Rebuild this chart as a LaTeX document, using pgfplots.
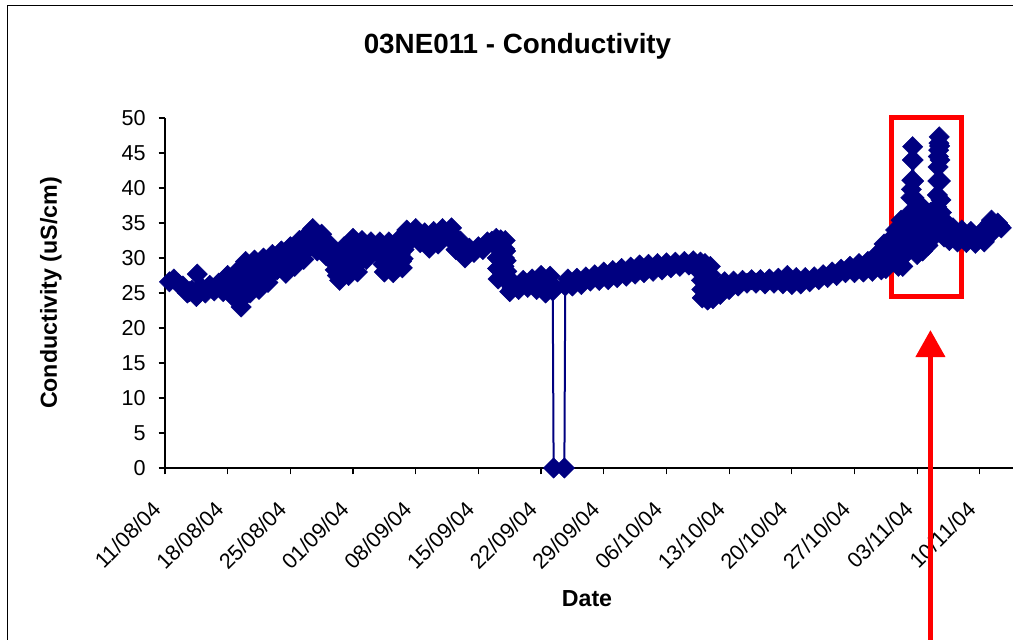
\documentclass[border=0pt]{standalone}
\usepackage{fontspec}
\setmainfont{Liberation Sans}
\usepackage{pgfplots}
\pgfplotsset{compat=1.18}
\usetikzlibrary{arrows.meta}
\definecolor{navy}{HTML}{000080}

\begin{document}
\begin{tikzpicture}
% chart frame (only top and left edges fall inside the picture)
\draw[black, line width=0.75pt] (3.75pt,-20pt) -- (3.75pt,317.25pt) -- (530pt,317.25pt);

\begin{axis}[
at={(82.5pt,86pt)}, anchor=south west,
scale only axis, width=424pt, height=175pt,
xmin=0, xmax=94.7,
ymin=0, ymax=50,
enlargelimits=false,
clip=false,
axis x line=bottom, axis y line=left,
axis line style={-, black, line width=0.6pt},
xtick={0,7,...,91},
xticklabels={11/08/04,18/08/04,25/08/04,01/09/04,08/09/04,15/09/04,22/09/04,29/09/04,06/10/04,13/10/04,20/10/04,27/10/04,03/11/04,10/11/04},
ytick={0,5,...,50},
tick align=outside,
major tick length=3.25pt,
tick style={black, line width=0.6pt},
/pgf/number format/assume math mode=true,
tick label style={font=\fontsize{10.8}{12}\selectfont},
xticklabel style={xshift=-4pt, rotate=45, anchor=east, inner sep=0pt},
yticklabel style={anchor=east, inner sep=0pt},
xticklabel shift=15.5pt,
yticklabel shift=6.25pt,
]

% conductivity readings, days since 11/08/04
\addplot[color=navy, line width=1pt,
  mark=square*, mark size=3.6pt,
  mark options={rotate=45, solid, fill=navy, draw=navy, line width=0.2pt}]
coordinates {
(0.5,26.6) (1.0,27.0) (1.5,26.3) (2.0,26.0) (2.25,25.5) (2.5,25.0) (2.75,25.2) (3.0,25.4)
(3.25,25.0) (3.5,24.5) (3.6,27.7) (3.75,25.1) (4.0,25.9) (4.25,25.4) (4.5,25.0) (4.75,25.6)
(5.0,26.1) (5.25,25.7) (5.5,25.3) (5.75,25.8) (6.0,26.4) (6.25,25.8) (6.5,25.2) (6.75,26.3)
(7.0,27.5) (7.15,26.6) (7.3,25.6) (7.5,24.6) (7.65,25.6) (7.8,26.8) (8.0,28.0) (8.1,27.0)
(8.2,26.0) (8.3,25.0) (8.4,24.0) (8.5,23.0) (8.6,24.2) (8.7,25.5) (8.8,26.8) (8.9,28.1)
(9.0,29.5) (9.1,28.4) (9.2,27.3) (9.35,26.1) (9.5,25.0) (9.6,26.2) (9.7,27.4) (9.85,28.6)
(10.0,29.7) (10.1,28.6) (10.2,27.5) (10.35,26.5) (10.5,25.5) (10.6,26.6) (10.7,27.7) (10.85,28.9)
(11.0,30.0) (11.1,29.0) (11.25,28.0) (11.4,27.2) (11.5,26.5) (11.6,27.5) (11.75,28.5) (11.9,29.6)
(12.0,30.5) (12.15,29.6) (12.3,28.9) (12.5,28.3) (12.65,29.2) (12.8,30.1) (13.0,31.0) (13.15,30.0)
(13.3,28.9) (13.5,27.8) (13.65,28.9) (13.8,30.3) (14.0,31.6) (14.15,30.6) (14.3,29.7) (14.5,28.8)
(14.65,30.0) (14.8,31.3) (15.0,32.5) (15.15,31.5) (15.3,30.6) (15.5,29.8) (15.65,30.9) (15.8,32.1)
(16.0,33.2) (16.25,33.8) (16.5,34.2) (16.6,33.1) (16.75,32.0) (17.0,31.0) (17.15,31.8) (17.3,32.6)
(17.5,33.4) (17.65,32.4) (17.8,31.4) (18.0,30.3) (18.25,31.0) (18.5,31.8) (18.6,30.7) (18.75,29.5)
(19.0,28.3) (19.25,27.5) (19.5,26.8) (19.6,28.0) (19.7,29.2) (19.85,30.4) (20.0,31.6) (20.1,30.5)
(20.2,29.5) (20.35,28.5) (20.5,27.5) (20.6,28.7) (20.7,30.0) (20.85,31.4) (21.0,32.8) (21.1,31.7)
(21.2,30.5) (21.35,29.2) (21.5,28.0) (21.6,29.2) (21.75,30.4) (21.9,31.5) (22.0,32.5) (22.15,31.6)
(22.3,30.7) (22.5,29.8) (22.75,31.0) (23.0,32.3) (23.25,31.6) (23.5,31.0) (23.75,31.7) (24.0,32.3)
(24.1,31.2) (24.2,30.2) (24.35,29.1) (24.5,28.0) (24.6,29.1) (24.7,30.1) (24.85,31.2) (25.0,32.3)
(25.1,31.2) (25.2,30.1) (25.35,29.0) (25.5,27.9) (25.6,29.0) (25.7,30.1) (25.85,31.3) (26.0,32.5)
(26.1,31.5) (26.25,30.5) (26.4,29.5) (26.5,28.6) (26.6,29.9) (26.7,31.2) (26.85,32.6) (27.0,34.0)
(27.25,33.3) (27.5,32.6) (27.75,33.4) (28.0,34.2) (28.25,33.2) (28.5,32.2) (28.75,32.9) (29.0,33.6)
(29.25,32.5) (29.5,31.4) (29.75,32.6) (30.0,33.8) (30.25,32.9) (30.5,32.0) (30.75,33.1) (31.0,34.2)
(31.25,33.6) (31.5,33.1) (31.75,33.7) (32.0,34.3) (32.15,33.3) (32.3,32.2) (32.5,31.2) (32.75,31.8)
(33.0,32.4) (33.15,31.6) (33.3,30.8) (33.5,30.0) (33.75,30.7) (34.0,31.4) (34.5,30.8) (35.0,31.6)
(35.5,31.2) (36.0,32.3) (36.5,32.4) (37.0,32.8) (37.05,31.5) (37.1,30.0) (37.15,28.5) (37.2,27.0)
(37.27,28.4) (37.33,29.8) (37.4,31.2) (37.5,32.6) (37.57,31.3) (37.64,30.0) (37.71,28.8) (37.8,27.5)
(37.85,28.8) (37.9,30.0) (37.95,31.3) (38.0,32.5) (38.05,31.0) (38.1,29.6) (38.17,28.1) (38.3,26.5)
(38.5,25.2) (38.75,25.7) (39.0,26.3) (39.25,25.9) (39.5,25.5) (39.75,26.1) (40.0,26.8) (40.25,26.3)
(40.5,25.8) (40.75,26.4) (41.0,27.0) (41.25,26.2) (41.5,25.5) (41.75,26.5) (42.0,27.5) (42.25,26.3)
(42.5,25.0) (42.75,26.2) (43.0,27.4) (43.15,26.3) (43.3,25.3) (43.4,0) (44.6,0) (44.7,26.0)
(45.0,27.0) (45.5,26.0) (46.0,27.1) (46.5,26.2) (47.0,27.3) (47.5,26.7) (48.0,27.6) (48.5,26.8)
(49.0,28.0) (49.5,26.9) (50.0,28.2) (50.5,27.2) (51.0,28.5) (51.5,27.4) (52.0,28.7) (52.5,27.7)
(53.0,29.0) (53.5,27.9) (54.0,29.1) (54.5,28.1) (55.0,29.2) (55.5,28.3) (56.0,29.3) (56.5,28.6)
(57.0,29.4) (57.5,28.8) (58.0,29.5) (58.5,29.0) (59.0,29.6) (59.5,28.3) (59.8,29.4) (59.85,28.1)
(59.9,26.8) (59.95,25.5) (60.0,24.3) (60.07,25.5) (60.14,26.7) (60.22,27.9) (60.3,29.2) (60.37,27.9)
(60.45,26.6) (60.52,25.3) (60.6,24.0) (60.67,25.2) (60.75,26.4) (60.82,27.6) (60.9,28.8) (60.97,27.6)
(61.05,26.4) (61.12,25.3) (61.2,24.2) (61.35,25.0) (61.5,25.9) (61.75,25.3) (62.0,24.8) (62.25,25.7)
(62.5,26.6) (62.75,26.0) (63.0,25.5) (63.5,26.7) (64.0,26.0) (64.5,26.8) (65.0,26.4) (65.5,26.9)
(66.0,26.4) (66.5,26.9) (67.0,26.3) (67.5,27.0) (68.0,26.4) (68.5,27.1) (69.0,26.3) (69.5,27.5)
(70.0,26.2) (70.5,27.2) (71.0,26.3) (71.5,27.2) (72.0,26.6) (72.5,27.3) (73.0,26.9) (73.5,27.6)
(74.0,27.2) (74.5,28.0) (75.0,27.5) (75.5,28.4) (76.0,27.9) (76.5,28.8) (77.0,27.9) (77.5,29.2)
(78.0,28.0) (78.5,29.5) (79.0,28.1) (79.5,30.5) (79.75,29.3) (80.0,28.3) (80.15,30.1) (80.3,32.0)
(80.4,30.2) (80.5,28.5) (80.6,29.8) (80.75,31.2) (80.9,32.5) (81.0,31.6) (81.15,30.5) (81.3,29.5)
(81.4,30.9) (81.5,32.4) (81.6,34.0) (81.7,32.2) (81.8,30.5) (81.9,28.8) (82.0,30.9) (82.1,33.0)
(82.2,35.4) (82.27,33.5) (82.33,31.3) (82.4,28.8) (82.5,30.3) (82.6,31.9) (82.7,33.5) (82.85,32.3)
(83.0,31.0) (83.1,32.8) (83.2,34.5) (83.25,36.5) (83.3,38.6) (83.35,39.8) (83.4,41.1) (83.45,44.0)
(83.5,45.9) (83.55,44.0) (83.6,41.0) (83.65,38.6) (83.7,36.5) (83.8,34.5) (83.9,32.5) (84.0,30.5)
(84.1,32.8) (84.2,35.2) (84.3,37.6) (84.4,35.4) (84.5,33.2) (84.6,31.0) (84.7,32.9) (84.8,34.8)
(84.9,36.8) (85.0,35.1) (85.1,33.5) (85.2,31.8) (85.3,33.4) (85.4,35.0) (85.5,36.5) (85.65,34.7)
(85.8,33.0) (85.95,34.4) (86.1,35.8) (86.15,36.6) (86.2,37.3) (86.25,39.0) (86.3,41.0) (86.33,43.0)
(86.36,44.5) (86.4,45.4) (86.43,46.4) (86.46,47.3) (86.5,46.0) (86.55,44.0) (86.6,41.0) (86.65,38.3)
(86.7,36.5) (86.85,34.7) (87.0,33.0) (87.15,34.0) (87.3,35.0) (87.45,33.7) (87.6,32.5) (87.8,33.4)
(88.0,34.3) (88.25,33.3) (88.5,32.3) (88.75,33.2) (89.0,34.0) (89.25,33.1) (89.5,32.2) (89.75,33.0)
(90.0,33.8) (90.25,33.0) (90.5,32.1) (90.75,32.8) (91.0,33.5) (91.25,32.9) (91.5,32.3) (91.75,33.4)
(92.0,34.5) (92.15,35.0) (92.3,35.4) (92.4,34.6) (92.5,33.8) (92.75,34.4) (93.0,35.0) (93.2,34.6)
(93.4,34.3)
};

% highlight box round the two peaks
\draw[red, line width=2.5pt] (axis cs:81.11,24.5) rectangle (axis cs:88.93,50.07);
\coordinate (arrtip) at (axis cs:85.48,19.71);
\coordinate (arrbot) at (axis cs:85.48,-30);
\end{axis}

\draw[red, line width=2.65pt, -{Triangle[width=14.3pt,length=13.5pt]}] (arrbot) -- (arrtip);

\node[anchor=base] at (258.75pt,293pt) {\fontsize{13.9}{16}\selectfont\bfseries 03NE011 - Conductivity};
\node[anchor=base] at (293.5pt,16.5pt) {\fontsize{11.6}{14}\selectfont\bfseries Date};
\node[rotate=90, anchor=center] at (25.5pt,173.5pt) {\fontsize{11.6}{14}\selectfont\bfseries Conductivity (uS/cm)};

\pgfresetboundingbox
\useasboundingbox (0,0) rectangle (506.5pt,320pt);
\end{tikzpicture}
\end{document}
